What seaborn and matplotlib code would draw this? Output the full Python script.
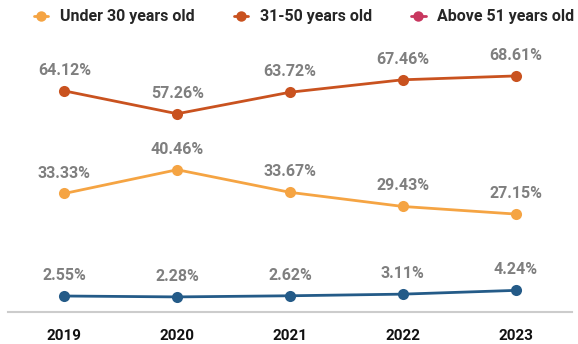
import matplotlib
matplotlib.use("Agg")
import matplotlib.pyplot as plt
from matplotlib.lines import Line2D
import pandas as pd
import seaborn as sns

years = ["2019", "2020", "2021", "2022", "2023"]
under_30 = [33.33, 40.46, 33.67, 29.43, 27.15]
age_31_50 = [64.12, 57.26, 63.72, 67.46, 68.61]
above_51 = [2.55, 2.28, 2.62, 3.11, 4.24]
series_names = ["Under 30 years old", "31-50 years old", "Above 51 years old"]

line_colors = ["#F5A443", "#C9521F", "#245B88"]
legend_colors = ["#F5A443", "#C9521F", "#C8375F"]

rows = []
for name, vals in zip(series_names, [under_30, age_31_50, above_51]):
    for i, (y, v) in enumerate(zip(years, vals)):
        rows.append({"idx": i, "year": y, "series": name, "value": v})
df = pd.DataFrame(rows)

sns.set_theme(style="white")
plt.rcParams["font.family"] = ["Roboto", "DejaVu Sans"]

fig = plt.figure(figsize=(5.78, 3.44), dpi=100)
ax = fig.add_axes([8 / 578, 1 - 312 / 344, 564 / 578, 272 / 344])

sns.lineplot(data=df, x="idx", y="value", hue="series", palette=line_colors,
             marker="o", markersize=8, markeredgewidth=0, linewidth=2,
             legend=False, ax=ax)

for name, vals in zip(series_names, [under_30, age_31_50, above_51]):
    for i, v in enumerate(vals):
        ax.annotate(f"{v:.2f}%", (i, v), xytext=(0, 11.5), textcoords="offset points",
                    ha="center", va="baseline", fontsize=11.5, fontweight="bold",
                    color="#7F7F7F")

ax.set_xlim(-0.5, 4.5)
ax.set_ylim(-2.25, 79.4)
ax.set_xticks(range(len(years)))
ax.set_xticklabels(years, fontsize=11, fontweight="bold", color="#111111")
ax.tick_params(axis="x", length=0, pad=12)
ax.set_yticks([])
ax.set_xlabel("")
ax.set_ylabel("")
for side in ["top", "left", "right"]:
    ax.spines[side].set_visible(False)
ax.spines["bottom"].set_color("#CCCCCC")
ax.spines["bottom"].set_linewidth(1.5)

handles = [Line2D([0], [0], color=c, marker="o", markersize=7.5, linewidth=2,
                  markeredgewidth=0) for c in legend_colors]
fig.legend(handles, series_names, loc="upper right",
           bbox_to_anchor=(581 / 578, 1 - 3 / 344),
           ncol=3, frameon=False, handlelength=0.88, columnspacing=2.45,
           handletextpad=0.75, borderaxespad=0.1, borderpad=0.3,
           prop={"family": "Roboto", "weight": "bold", "size": 11.5})

fig.savefig("out.png", dpi=100)
